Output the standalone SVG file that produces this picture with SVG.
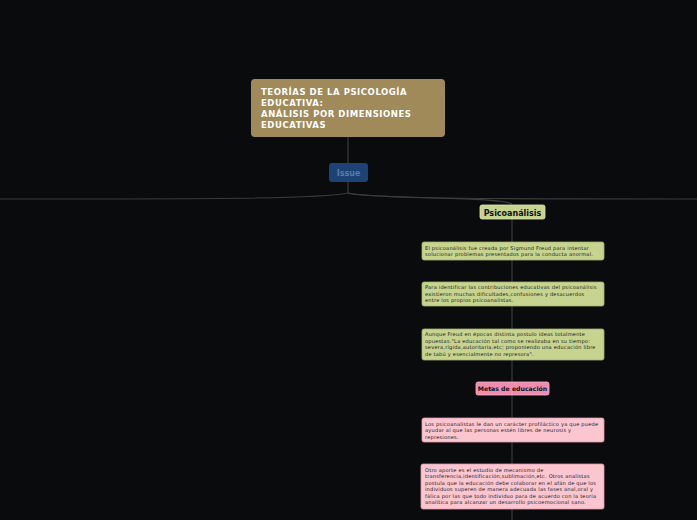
<svg xmlns="http://www.w3.org/2000/svg" width="697" height="520" viewBox="0 0 697 520">
<style>
.ln{fill:none;stroke:#3a3b3d;stroke-width:1.2}
.t{font-family:"DejaVu Sans",Verdana,sans-serif;font-size:5.1px;letter-spacing:0.2px;fill:#1a1a1a}
.g{fill:#c6d48f;stroke:#a4b06a;stroke-width:0.8}
.p{fill:#fbc6d0;stroke:#e29aaa;stroke-width:0.8}
</style>
<rect width="697" height="520" fill="#0a0b0d"/>
<g id="connectors">
<path class="ln" d="M348,137 V163" stroke="#8a8a8a"/>
<path class="ln" d="M348,182 V193"/>
<path class="ln" d="M348,193 C320,199 200,199 0,199"/>
<path class="ln" d="M348,193 C380,199 500,199 697,199"/>
<path class="ln" d="M348,193 C360,199 500,196 512,204"/>
<path class="ln" d="M512,219 V520"/>
</g>
<g id="main">
<rect x="251" y="79" width="194" height="58" rx="4" fill="#a08a5a"/>
<g font-family="'DejaVu Sans',Verdana,sans-serif" font-size="8.5" font-weight="bold" letter-spacing="0.55" fill="#ffffff">
<text x="261" y="95">TEORÍAS DE LA PSICOLOGÍA</text>
<text x="261" y="106">EDUCATIVA:</text>
<text x="261" y="117">ANÁLISIS POR DIMENSIONES</text>
<text x="261" y="128">EDUCATIVAS</text>
</g>
</g>
<g id="issue">
<rect x="329" y="163" width="39" height="19" rx="3" fill="#1d4277"/>
<text x="348.5" y="176" text-anchor="middle" font-family="'DejaVu Sans',Verdana,sans-serif" font-size="8" font-weight="bold" fill="#5a7aa6">Issue</text>
</g>
<g id="psicoanalisis">
<rect x="480" y="205" width="65" height="14" rx="2" fill="#c6d48f" stroke="#dfe8b0" stroke-width="0.8"/>
<text x="512.5" y="215.5" text-anchor="middle" font-family="'DejaVu Sans',Verdana,sans-serif" font-size="8" font-weight="bold" fill="#111">Psicoanálisis</text>
</g>
<g id="n1">
<rect class="g" x="422" y="242" width="182" height="18" rx="2"/>
<text class="t" x="425" y="249.5">El psicoanálisis fue creada por Sigmund Freud para intentar</text>
<text class="t" x="425" y="256">solucionar problemas presentados para la conducta anormal.</text>
</g>
<g id="n2">
<rect class="g" x="422" y="282" width="182" height="24" rx="2"/>
<text class="t" x="425" y="289">Para identificar las contribuciones educativas del psicoanálisis</text>
<text class="t" x="425" y="295.5">existieron muchas dificultades,confusiones y desacuerdos</text>
<text class="t" x="425" y="302">entre los propios psicoanalistas.</text>
</g>
<g id="n3">
<rect class="g" x="422" y="329" width="182" height="31" rx="2"/>
<text class="t" x="425" y="336">Aunque Freud en épocas distinta postulo ideas totalmente</text>
<text class="t" x="425" y="342.5">opuestas."La educación tal como se realizaba en su tiempo:</text>
<text class="t" x="425" y="349">severa,rígida,autoritaria,etc; proponiendo una educación libre</text>
<text class="t" x="425" y="355.5">de tabú y esencialmente no represora".</text>
</g>
<g id="metas">
<rect x="476" y="382" width="73" height="13" rx="2" fill="#ef8db0" stroke="#f7b3c9" stroke-width="0.8"/>
<text x="512.5" y="391" text-anchor="middle" font-family="'DejaVu Sans',Verdana,sans-serif" font-size="6.2" font-weight="bold" fill="#111">Metas de educación</text>
</g>
<g id="n4">
<rect class="p" x="422" y="418" width="182" height="24" rx="2"/>
<text class="t" x="425" y="425.5">Los psicoanalistas le dan un carácter profiláctico ya que puede</text>
<text class="t" x="425" y="432">ayudar al que las personas estén libres de neurosis y</text>
<text class="t" x="425" y="438.5">represiones.</text>
</g>
<g id="n5">
<rect class="p" x="421" y="464" width="183" height="45" rx="2"/>
<text class="t" x="425" y="471.5">Otro aporte es el estudio de mecanismo de</text>
<text class="t" x="425" y="478">transferencia,identificación,sublimación,etc. Otros analistas</text>
<text class="t" x="425" y="484.5">postula que la educación debe colaborar en el afán de que los</text>
<text class="t" x="425" y="491">individuos superen de manera adecuada las fases anal,oral y</text>
<text class="t" x="425" y="497.5">fálica por las que todo individuo para de acuerdo con la teoría</text>
<text class="t" x="425" y="504">analítica para alcanzar un desarrollo psicoemocional sano.</text>
</g>
</svg>
